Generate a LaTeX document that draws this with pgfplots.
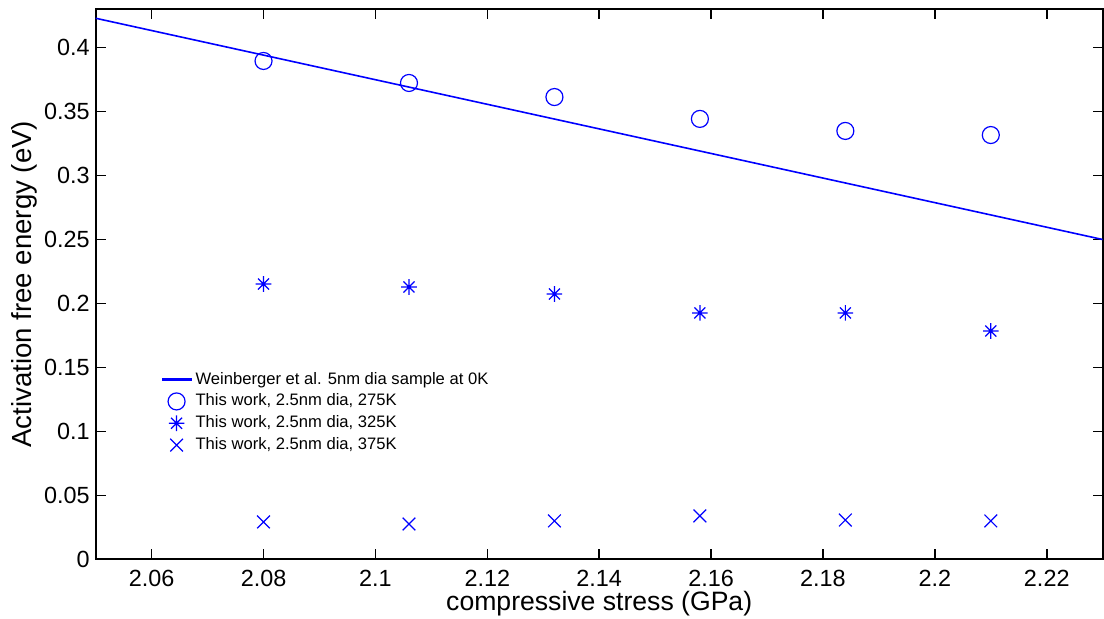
\documentclass[border=0pt]{standalone}
\usepackage{fontspec}
\setmainfont{Liberation Sans}
\usepackage{pgfplots}
\pgfplotsset{compat=1.18}
\pgfdeclareplotmark{mstar}{%
  \pgfpathmoveto{\pgfqpoint{-\pgfplotmarksize}{0pt}}\pgfpathlineto{\pgfqpoint{\pgfplotmarksize}{0pt}}%
  \pgfpathmoveto{\pgfqpoint{0pt}{-\pgfplotmarksize}}\pgfpathlineto{\pgfqpoint{0pt}{\pgfplotmarksize}}%
  \pgfpathmoveto{\pgfqpoint{-.7071\pgfplotmarksize}{-.7071\pgfplotmarksize}}\pgfpathlineto{\pgfqpoint{.7071\pgfplotmarksize}{.7071\pgfplotmarksize}}%
  \pgfpathmoveto{\pgfqpoint{-.7071\pgfplotmarksize}{.7071\pgfplotmarksize}}\pgfpathlineto{\pgfqpoint{.7071\pgfplotmarksize}{-.7071\pgfplotmarksize}}%
  \pgfusepathqstroke}
\definecolor{mblue}{RGB}{0,0,255}
\begin{document}
\begin{tikzpicture}
\path[use as bounding box] (-47.85pt,-29.85pt) rectangle (504.15pt,279.65pt);
\begin{axis}[
  scale only axis,
  width=503.5pt, height=275pt,
  xmin=2.05, xmax=2.23, ymin=0, ymax=0.43,
  xtick={2.06,2.08,2.1,2.12,2.14,2.16,2.18,2.2,2.22},
  xticklabels={2.06,2.08,2.1,2.12,2.14,2.16,2.18,2.2,2.22},
  ytick={0,0.05,0.1,0.15,0.2,0.25,0.3,0.35,0.4},
  yticklabels={0,0.05,0.1,0.15,0.2,0.25,0.3,0.35,0.4},
  tick align=inside,
  major tick length=5pt,
  every tick/.style={black, line width=0.75pt},
  axis line style={line width=0.9pt},
  tick label style={font=\fontsize{11.7}{13}\selectfont},
  xlabel={compressive stress (GPa)},
  ylabel={Activation free energy (eV)},
  xlabel style={font=\fontsize{13.3}{15}\selectfont, yshift=4.5pt},
  ylabel style={font=\fontsize{13.8}{15}\selectfont, yshift=-3.5pt},
  xticklabel style={yshift=-2pt},
  yticklabel style={xshift=0.5pt},
  legend cell align=left,
  legend style={draw=none, fill=none, at={(0.063,0.352)}, anchor=north west,
    font=\fontsize{8.3}{10}\selectfont, row sep=-0.6pt, inner sep=1pt},
  legend image code/.code={\draw[mark repeat=2,mark phase=2,#1] plot coordinates {(0cm,0cm) (0.25cm,0cm) (0.5cm,0cm)};},
]
\addplot[mblue, line width=0.8pt,
  legend image code/.code={\fill[mblue] (0cm,-0.3pt) rectangle (0.5cm,0.3pt);}]
  coordinates {(2.05,0.423) (2.23,0.250)};
\addlegendentry{Weinberger et al. 5nm dia sample at 0K}
\addplot[only marks, mblue, mark=o, mark size=4.25pt, line width=0.6pt] coordinates {
 (2.080,0.3896) (2.106,0.3724) (2.132,0.3614) (2.158,0.3443) (2.184,0.3349) (2.210,0.3317)};
\addlegendentry{This work, 2.5nm dia, 275K}
\addplot[only marks, mblue, mark=mstar, mark size=3.9pt, line width=0.6pt] coordinates {
 (2.080,0.2152) (2.106,0.2129) (2.132,0.2074) (2.158,0.1926) (2.184,0.1926) (2.210,0.1785)};
\addlegendentry{This work, 2.5nm dia, 325K}
\addplot[only marks, mblue, mark=x, mark size=4.5pt, line width=0.6pt] coordinates {
 (2.080,0.0292) (2.106,0.0276) (2.132,0.0300) (2.158,0.0339) (2.184,0.0307) (2.210,0.0300)};
\addlegendentry{This work, 2.5nm dia, 375K}
\end{axis}
\end{tikzpicture}
\end{document}
